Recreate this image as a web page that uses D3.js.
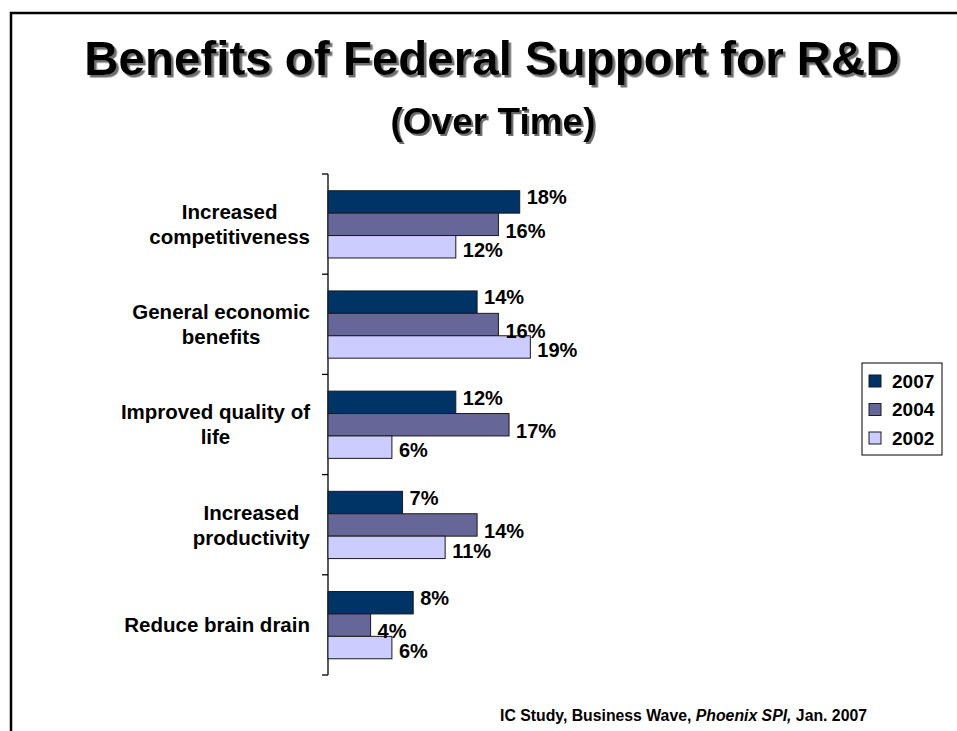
<!DOCTYPE html>
<html>
<head>
<meta charset="utf-8">
<script src="https://cdn.jsdelivr.net/npm/d3@7/dist/d3.min.js"></script>
<style>
  html, body { margin: 0; padding: 0; background: #ffffff; }
  svg { display: block; font-family: "Liberation Sans", Arial, Helvetica, sans-serif; }
</style>
</head>
<body>
<svg id="chart" width="957" height="731"></svg>
<script>
// Survey categories (line breaks mark wrapped labels)
const categories = [
  "Increased\ncompetitiveness",
  "General economic\nbenefits",
  "Improved quality of\nlife",
  "Increased\nproductivity",
  "Reduce brain drain"
];
const seriesNames = ["2007", "2004", "2002"];
const values2007 = [18, 14, 12, 7, 8];
const values2004 = [16, 16, 17, 14, 4];
const values2002 = [12, 19, 6, 11, 6];

const seriesValues = [values2007, values2004, values2002];
const seriesColors = ["#003366", "#666699", "#ccccff"];
// vertical nudge of each series' value label relative to its bar centre
const labelShift = [-5, 6, 3];

const svg = d3.select("#chart");
const W = 957, H = 731;

// hard-edged drop shadows for the headings
const defs = svg.append("defs");
[["shadowBig", 2.5], ["shadowSmall", 2]].forEach(([id, off]) => {
  defs.append("filter").attr("id", id)
    .attr("x", "-5%").attr("y", "-20%").attr("width", "110%").attr("height", "140%")
    .append("feDropShadow")
    .attr("dx", off).attr("dy", off).attr("stdDeviation", 0)
    .attr("flood-color", "#6e6e6e").attr("flood-opacity", 1);
});

svg.append("rect").attr("width", W).attr("height", H).attr("fill", "#fff");

// slide frame
svg.append("path")
  .attr("d", `M11,${H} L11,13 L${W},13`)
  .attr("fill", "none").attr("stroke", "#000").attr("stroke-width", 2.5);

// titles
svg.append("text")
  .attr("x", 492).attr("y", 75)
  .attr("text-anchor", "middle")
  .attr("font-size", 47.5).attr("font-weight", "bold")
  .attr("filter", "url(#shadowBig)")
  .text("Benefits of Federal Support for R&D");
svg.append("text")
  .attr("x", 493).attr("y", 134)
  .attr("text-anchor", "middle")
  .attr("font-size", 37).attr("font-weight", "bold")
  .attr("filter", "url(#shadowSmall)")
  .text("(Over Time)");

// scales
const y0 = d3.scaleBand().domain(categories).range([174, 675]).padding(0);
const y1 = d3.scaleBand().domain(seriesNames)
  .range([y0.bandwidth() * 0.167, y0.bandwidth() * 0.838]).padding(0);
const x = d3.scaleLinear().domain([0, 20]).range([328, 541]);

// axis line with ticks at category boundaries
const axisG = svg.append("g");
axisG.append("line")
  .attr("x1", x(0)).attr("x2", x(0))
  .attr("y1", y0.range()[0]).attr("y2", y0.range()[1])
  .attr("stroke", "#000").attr("stroke-width", 1.3);
const boundaries = categories.map(c => y0(c)).concat([y0.range()[1]]);
axisG.selectAll("line.tick").data(boundaries).enter().append("line")
  .attr("class", "tick")
  .attr("x1", x(0) - 6).attr("x2", x(0))
  .attr("y1", d => d).attr("y2", d => d)
  .attr("stroke", "#000").attr("stroke-width", 1.3);

// bars
const rows = [];
categories.forEach((c, ci) => {
  seriesNames.forEach((s, si) => {
    rows.push({ cat: c, series: s, si, value: seriesValues[si][ci] });
  });
});

svg.append("g").selectAll("rect").data(rows).enter().append("rect")
  .attr("x", x(0))
  .attr("y", d => y0(d.cat) + y1(d.series))
  .attr("width", d => x(d.value) - x(0))
  .attr("height", y1.bandwidth())
  .attr("fill", d => seriesColors[d.si])
  .attr("stroke", "#1a1a1a").attr("stroke-width", 1);

// value labels
svg.append("g").selectAll("text").data(rows).enter().append("text")
  .attr("x", d => x(d.value) + 7)
  .attr("y", d => y0(d.cat) + y1(d.series) + y1.bandwidth() / 2 + labelShift[d.si])
  .attr("dy", "0.36em")
  .attr("font-size", 20).attr("font-weight", "bold")
  .attr("fill", "#000")
  .text(d => d.value + "%");

// category labels: block right-aligned, lines centred within block
const catG = svg.append("g");
categories.forEach(c => {
  const lines = c.split("\n");
  const t = catG.append("text")
    .attr("font-size", 20.5).attr("font-weight", "bold")
    .attr("text-anchor", "middle").attr("fill", "#000");
  const lh = 25;
  const cy = y0(c) + y0.bandwidth() / 2;
  const spans = lines.map((ln, i) =>
    t.append("tspan")
      .attr("y", cy + (i - (lines.length - 1) / 2) * lh)
      .attr("dy", "0.36em")
      .text(ln));
  const maxW = d3.max(spans, s => s.node().getComputedTextLength());
  spans.forEach(s => s.attr("x", 310 - maxW / 2));
});

// legend
const lg = svg.append("g").attr("transform", "translate(862,363)");
lg.append("rect").attr("width", 80).attr("height", 92)
  .attr("fill", "#fff").attr("stroke", "#000").attr("stroke-width", 1);
seriesNames.forEach((s, i) => {
  const cy = 18 + i * 28.5;
  lg.append("rect").attr("x", 7).attr("y", cy - 6).attr("width", 12).attr("height", 12)
    .attr("fill", seriesColors[i]).attr("stroke", "#1a1a1a").attr("stroke-width", 1);
  lg.append("text").attr("x", 30).attr("y", cy).attr("dy", "0.36em")
    .attr("font-size", 19).attr("font-weight", "bold").text(s);
});

// source note
const src = svg.append("text").attr("x", 500).attr("y", 721)
  .attr("font-size", 15.8).attr("font-weight", "bold").attr("fill", "#000");
src.append("tspan").text("IC Study, Business Wave, ");
src.append("tspan").attr("font-style", "italic").text("Phoenix SPI,");
src.append("tspan").text(" Jan. 2007");
</script>
</body>
</html>
